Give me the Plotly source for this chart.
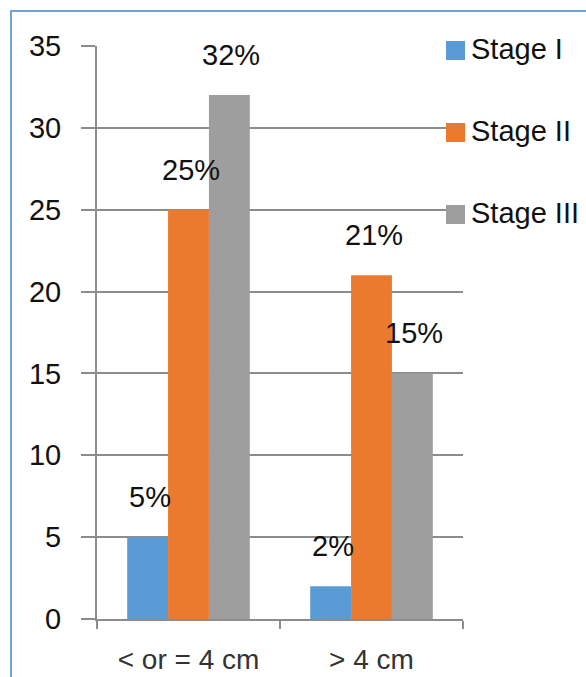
import plotly.graph_objects as go

# Tumour size groups and percentage of patients per stage
categories = ["< or = 4 cm", "> 4 cm"]
series_names = ["Stage I", "Stage II", "Stage III"]
stage1 = [5, 2]
stage2 = [25, 21]
stage3 = [32, 15]
series_values = [stage1, stage2, stage3]
colors = ["#5b9bd5", "#ec7a2e", "#9e9e9e"]
y_ticks = [0, 5, 10, 15, 20, 25, 30, 35]

W, H = 586, 677
ML, MR, MT, MB = 97, 123, 46, 58
PW, PH = W - ML - MR, H - MT - MB
BARGAP = 0.33
FONT = "Liberation Sans"
GRID = "#8c8c8c"


def px_x(px):
    return (px - ML) / PW


def px_y(py):
    return (H - MB - py) / PH


fig = go.Figure()
for name, vals, col in zip(series_names, series_values, colors):
    fig.add_trace(go.Bar(
        x=categories, y=vals, name=name,
        marker=dict(color=col, line=dict(width=0)),
        showlegend=False,
    ))

# value labels above each bar
bar_px = PW / len(categories) * (1 - BARGAP) / len(series_names)
annotations = []
for i, vals in enumerate(series_values):
    offset = (i - (len(series_names) - 1) / 2) * bar_px
    for cat, v in zip(categories, vals):
        annotations.append(dict(
            x=cat, y=v, xref="x", yref="y", text=f"{v}%",
            showarrow=False, xshift=offset + 2, yshift=40,
            xanchor="center", yanchor="middle",
            font=dict(family=FONT, size=29, color="#111111"),
        ))

# legend entries on the right
shapes = []
legend_top = 50.5
legend_step = 82
for i, (name, col) in enumerate(zip(series_names, colors)):
    cy = legend_top + i * legend_step
    shapes.append(dict(
        type="rect", xref="paper", yref="paper",
        x0=px_x(446), x1=px_x(465), y0=px_y(cy + 9.5), y1=px_y(cy - 9.5),
        fillcolor=col, line=dict(width=0), layer="above",
    ))
    annotations.append(dict(
        x=px_x(469), y=px_y(cy - 1.5), xref="paper", yref="paper",
        text=name, showarrow=False, xanchor="left", yanchor="middle",
        font=dict(family=FONT, size=29, color="#111111"),
    ))

# chart border
shapes.append(dict(
    type="rect", xref="paper", yref="paper",
    x0=px_x(11), x1=px_x(W + 20), y0=px_y(H + 20), y1=px_y(11),
    line=dict(color="#6fa3d8", width=2), fillcolor="rgba(0,0,0,0)",
    layer="below",
))

fig.update_layout(
    width=W, height=H,
    margin=dict(l=ML, r=MR, t=MT, b=MB, autoexpand=False),
    paper_bgcolor="white", plot_bgcolor="white",
    barmode="group", bargap=BARGAP, bargroupgap=0,
    font=dict(family=FONT, size=29, color="#111111"),
    annotations=annotations, shapes=shapes,
    showlegend=False,
)
fig.update_xaxes(
    showline=True, linecolor=GRID, linewidth=2,
    ticks="outside", tickson="boundaries", ticklen=8, tickwidth=2,
    tickcolor=GRID, showgrid=False,
    tickfont=dict(family=FONT, size=28, color="#333333"),
    ticklabelstandoff=14,
)
fig.update_yaxes(
    range=[0, 35], tickvals=y_ticks, ticktext=[str(t) for t in y_ticks],
    showgrid=True, gridcolor=GRID, gridwidth=2,
    showline=True, linecolor=GRID, linewidth=2,
    ticks="outside", ticklen=14, tickwidth=2, tickcolor=GRID,
    zeroline=False,
    tickfont=dict(family=FONT, size=29, color="#111111"),
    ticklabelstandoff=14,
)

fig.write_html("out.html")
